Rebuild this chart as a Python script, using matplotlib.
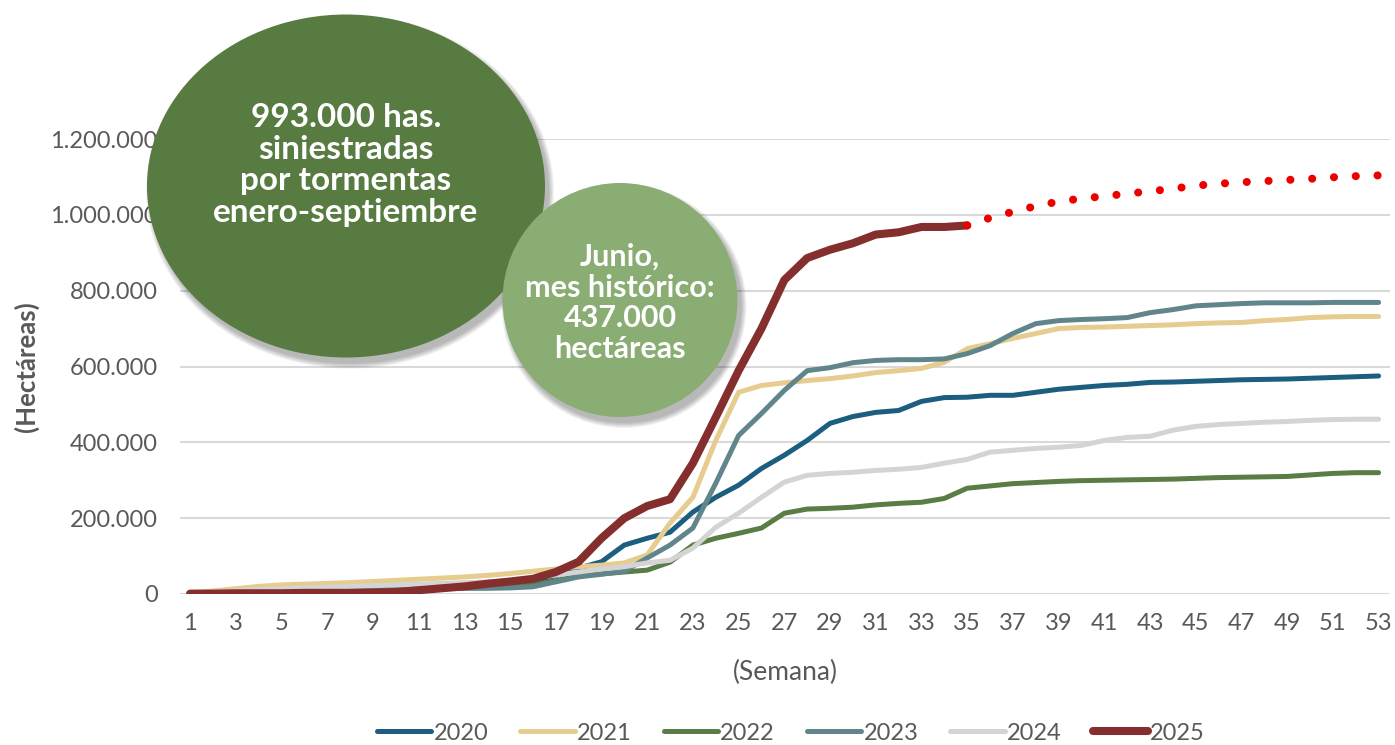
import matplotlib
matplotlib.use("Agg")
import matplotlib.pyplot as plt
from matplotlib.patches import Ellipse
from matplotlib.ticker import FuncFormatter, MultipleLocator
import numpy as np

plt.rcParams['font.family'] = ['Lato', 'DejaVu Sans']

# semanas 1..53, miles de hectareas
weeks = list(range(1, 54))
y2020 = [2, 4, 6, 8, 10, 11, 12, 13, 14, 15, 17, 19, 21, 24, 28, 35, 48, 68, 85, 129,
         147, 163, 216, 255, 287, 331, 366, 405, 450, 468, 479, 484, 508, 518, 519, 524, 524, 532, 540, 545,
         550, 553, 558, 559, 561, 563, 565, 566, 567, 569, 571, 573, 575]
y2021 = [3, 8, 14, 20, 24, 26, 28, 30, 33, 36, 39, 42, 45, 49, 54, 60, 66, 72, 76, 82,
         103, 187, 255, 405, 532, 550, 557, 563, 568, 575, 584, 589, 595, 611, 647, 660, 674, 687, 700, 703,
         704, 706, 708, 710, 713, 715, 716, 721, 724, 729, 731, 732, 732]
y2022 = [1, 3, 5, 7, 8, 9, 10, 11, 12, 13, 14, 15, 16, 17, 19, 24, 35, 48, 53, 58,
         63, 84, 129, 147, 160, 174, 213, 224, 226, 229, 235, 239, 242, 252, 279, 285, 291, 294, 297, 299,
         300, 301, 302, 303, 305, 307, 308, 309, 310, 314, 318, 320, 320]
y2023 = [1, 3, 5, 6, 8, 9, 10, 11, 11, 12, 13, 14, 15, 15, 16, 19, 32, 45, 52, 60,
         95, 129, 174, 292, 418, 476, 537, 589, 597, 610, 616, 618, 618, 620, 634, 655, 687, 713, 721, 724,
         726, 729, 742, 750, 760, 763, 766, 768, 768, 768, 769, 769, 769]
y2024 = [2, 5, 8, 11, 14, 16, 18, 20, 22, 24, 26, 28, 30, 32, 35, 42, 50, 58, 66, 72,
         82, 89, 121, 176, 213, 255, 295, 313, 318, 321, 326, 329, 334, 345, 355, 374, 379, 384, 387, 392,
         405, 413, 416, 432, 442, 447, 450, 453, 455, 458, 460, 461, 461]
y2025 = [1, 1, 2, 2, 2, 3, 3, 3, 4, 5, 10, 15, 20, 27, 33, 40, 58, 85, 147, 200,
         232, 250, 345, 466, 589, 700, 828, 886, 908, 925, 948, 954, 968, 968, 972]
weeks_proj = list(range(35, 54))
y_proj = [972, 992, 1008, 1023, 1035, 1043, 1049, 1056, 1062, 1069, 1077, 1082, 1086, 1089,
          1092, 1095, 1099, 1102, 1104]

series = [("2020", y2020, "#1b5e80"), ("2021", y2021, "#e6cc8e"), ("2022", y2022, "#5a7d45"),
          ("2023", y2023, "#60868c"), ("2024", y2024, "#d4d4d4")]

gray = "#595959"

fig = plt.figure(figsize=(13.95, 7.45), dpi=100)
ax = fig.add_axes([180 / 1395, 1 - 594 / 745, 1210 / 1395, 455 / 745])

for name, vals, col in series:
    ax.plot(weeks, np.array(vals) * 1000, color=col, lw=3.6, label=name,
            solid_capstyle="round", solid_joinstyle="round", zorder=3)
ax.plot(weeks[:len(y2025)], np.array(y2025) * 1000, color="#852e2e", lw=5.8, label="2025",
        solid_capstyle="round", solid_joinstyle="round", zorder=4)
ax.plot(weeks_proj, np.array(y_proj) * 1000, color="#ee0000", lw=5.8,
        linestyle=(0, (0.01, 2.7)), dash_capstyle="round", zorder=5)

ax.set_xlim(0.56, 53.5)
ax.set_ylim(0, 1200000)
ax.yaxis.set_major_locator(MultipleLocator(200000))
ax.yaxis.set_major_formatter(FuncFormatter(lambda v, p: f"{int(v):,}".replace(",", ".")))
ax.set_xticks(range(1, 54, 2))
ax.grid(axis="y", color="#d9d9d9", lw=1.5)
ax.set_axisbelow(True)
for s in ax.spines.values():
    s.set_visible(False)
ax.tick_params(length=0, colors=gray, labelsize=17)
ax.tick_params(axis="x", pad=14)
ax.tick_params(axis="y", pad=16)
ax.set_xlabel("(Semana)", color=gray, fontsize=19, labelpad=18)
ax.set_ylabel("(Hectáreas)", color=gray, fontsize=18.5, fontweight="bold", labelpad=8)

fig.legend(loc="center", bbox_to_anchor=(0.567, 0.016), ncol=6, frameon=False,
           fontsize=17, labelcolor=gray, handlelength=2.3, handletextpad=0.1,
           columnspacing=1.35)

# burbujas de texto
ov = fig.add_axes([0, 0, 1, 1], zorder=10)
ov.set_xlim(0, 1395)
ov.set_ylim(745, 0)
ov.axis("off")
ov.patch.set_alpha(0)

def bubble(cx, cy, w, h, col):
    for k in range(6):
        ov.add_patch(Ellipse((cx + 4, cy + 6), w + 2 * k, h + 2 * k,
                             color="#000000", alpha=0.05, lw=0))
    ov.add_patch(Ellipse((cx, cy), w, h, color=col, lw=0))

bubble(346, 186, 398, 343, "#587b42")
bubble(620, 300, 235, 234, "#8aad74")

ov.text(346, 165, "993.000 has.\nsiniestradas\npor tormentas\nenero-septiembre",
        ha="center", va="center", color="white", fontsize=24, fontweight="bold",
        linespacing=1.12)
ov.text(620, 303, "Junio,\nmes histórico:\n437.000\nhectáreas",
        ha="center", va="center", color="white", fontsize=22, fontweight="bold",
        linespacing=1.13)

fig.savefig("out.png", dpi=100)
